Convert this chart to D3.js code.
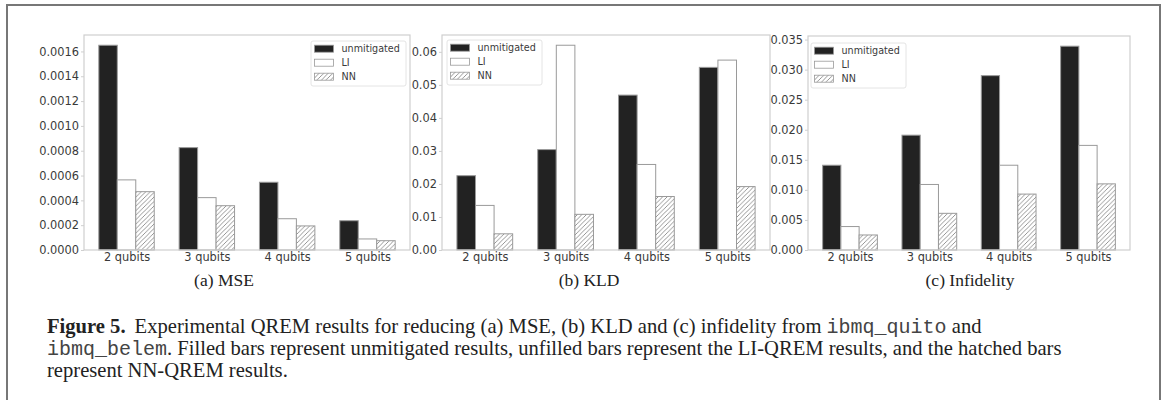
<!DOCTYPE html>
<html>
<head>
<meta charset="utf-8">
<script src="https://cdn.jsdelivr.net/npm/d3@7"></script>
<style>
  body { margin: 0; background: #fff; }
  svg { display: block; }
</style>
</head>
<body>
<figure style="margin:0"></figure>
<script>
const categories = ['2 qubits', '3 qubits', '4 qubits', '5 qubits'];
const seriesNames = ['unmitigated', 'LI', 'NN'];

const mseUnmitigated = [0.00165, 0.000825, 0.000546, 0.000236];
const mseLI = [0.000565, 0.000422, 0.000252, 0.000089];
const mseNN = [0.00047, 0.000357, 0.000194, 0.000075];

const kldUnmitigated = [0.0225, 0.0304, 0.0469, 0.0553];
const kldLI = [0.0135, 0.0620, 0.0259, 0.0575];
const kldNN = [0.0049, 0.0108, 0.0162, 0.0192];

const infUnmitigated = [0.0141, 0.0191, 0.0290, 0.0339];
const infLI = [0.0039, 0.0109, 0.0141, 0.0174];
const infNN = [0.0025, 0.0061, 0.0093, 0.0110];

const mseTicks = [0, 0.0002, 0.0004, 0.0006, 0.0008, 0.0010, 0.0012, 0.0014, 0.0016];
const kldTicks = [0, 0.01, 0.02, 0.03, 0.04, 0.05, 0.06];
const infTicks = [0, 0.005, 0.010, 0.015, 0.020, 0.025, 0.030, 0.035];

const subCaptions = ['(a) MSE', '(b) KLD', '(c) Infidelity'];

(() => {
  const totalWidth = 1167;
  const totalHeight = 400;

  const svg = d3.select('figure').append('svg')
    .attr('width', totalWidth)
    .attr('height', totalHeight);

  // hatch for NN bars
  const defs = svg.append('defs');
  const pat = defs.append('pattern')
    .attr('id', 'hatch')
    .attr('patternUnits', 'userSpaceOnUse')
    .attr('width', 4.5).attr('height', 4.5);
  pat.append('rect').attr('width', 4.5).attr('height', 4.5).attr('fill', '#fff');
  pat.append('path')
    .attr('d', 'M-1,1 l2,-2 M0,4.5 l4.5,-4.5 M3.5,5.5 l2,-2')
    .attr('stroke', '#8a8a8a')
    .attr('stroke-width', 0.9);

  // outer frame
  svg.append('rect')
    .attr('x', 7).attr('y', 5)
    .attr('width', 1153).attr('height', 430)
    .attr('fill', 'none')
    .attr('stroke', '#777')
    .attr('stroke-width', 2);

  const fills = ['#222', '#fff', 'url(#hatch)'];

  const panels = [
    {left: 84, right: 410, top: 35, bottom: 250, values: [mseUnmitigated, mseLI, mseNN],
     ticks: mseTicks, fmt: d3.format('.4f'), legend: {x: 311, y: 41}, capX: 224},
    {left: 442, right: 770, top: 35, bottom: 250, values: [kldUnmitigated, kldLI, kldNN],
     ticks: kldTicks, fmt: d3.format('.2f'), legend: {x: 447, y: 40}, capX: 589},
    {left: 808, right: 1130, top: 36, bottom: 250, values: [infUnmitigated, infLI, infNN],
     ticks: infTicks, fmt: d3.format('.3f'), legend: {x: 811, y: 43}, capX: 970}
  ];

  const bw = 0.23;
  const extent = (categories.length - 1) + 3 * bw;
  const pad = extent * 0.05;

  panels.forEach((p, pi) => {
    const g = svg.append('g');

    const x = d3.scaleLinear()
      .domain([-1.5 * bw - pad, categories.length - 1 + 1.5 * bw + pad])
      .range([p.left, p.right]);

    const maxVal = d3.max(p.values, (s) => d3.max(s));
    const y = d3.scaleLinear()
      .domain([0, maxVal * 1.05])
      .range([p.bottom, p.top]);

    // bars
    p.values.forEach((s, si) => {
      g.selectAll(null)
        .data(s)
        .enter().append('rect')
        .attr('x', (d, i) => x(i + (si - 1.5) * bw))
        .attr('width', x(bw) - x(0))
        .attr('y', (d) => y(d))
        .attr('height', (d) => y(0) - y(d))
        .attr('fill', fills[si])
        .attr('stroke', '#9a9a9a')
        .attr('stroke-width', 1);
    });

    // frame
    g.append('rect')
      .attr('x', p.left).attr('y', p.top)
      .attr('width', p.right - p.left).attr('height', p.bottom - p.top)
      .attr('fill', 'none')
      .attr('stroke', '#cfcfcf')
      .attr('stroke-width', 1.2);

    const yAxis = g.append('g')
      .attr('transform', 'translate(' + p.left + ',0)')
      .call(d3.axisLeft(y).tickValues(p.ticks).tickFormat(p.fmt).tickSize(3).tickPadding(2));
    yAxis.select('.domain').remove();
    yAxis.selectAll('line').attr('stroke', '#cfcfcf');
    yAxis.selectAll('text')
      .attr('fill', '#3a3a3a')
      .style('font-family', '"DejaVu Sans", sans-serif')
      .style('font-size', '11.4px');

    const xAxis = g.append('g')
      .attr('transform', 'translate(0,' + p.bottom + ')')
      .call(d3.axisBottom(x).tickValues(d3.range(categories.length))
        .tickFormat((i) => categories[i]).tickSize(0).tickPadding(3));
    xAxis.select('.domain').remove();
    xAxis.selectAll('text')
      .attr('fill', '#3a3a3a')
      .style('font-family', '"DejaVu Sans", sans-serif')
      .style('font-size', '11.4px');

    // legend
    const lg = g.append('g').attr('transform', 'translate(' + p.legend.x + ',' + p.legend.y + ')');
    lg.append('rect')
      .attr('width', 95).attr('height', 45)
      .attr('rx', 2)
      .attr('fill', '#fff')
      .attr('stroke', '#e4e4e4');
    seriesNames.forEach((name, si) => {
      const cy = 7.7 + si * 14;
      lg.append('rect')
        .attr('x', 3.5).attr('y', cy - 3.5)
        .attr('width', 19).attr('height', 7)
        .attr('fill', fills[si])
        .attr('stroke', '#9a9a9a')
        .attr('stroke-width', 0.8);
      lg.append('text')
        .attr('x', 30.5).attr('y', cy)
        .attr('dy', '0.35em')
        .attr('fill', '#3a3a3a')
        .style('font-family', '"DejaVu Sans", sans-serif')
        .style('font-size', '9.6px')
        .text(name);
    });

    svg.append('text')
      .attr('x', p.capX).attr('y', 286)
      .attr('text-anchor', 'middle')
      .attr('fill', '#222')
      .style('font-family', '"Liberation Serif", serif')
      .style('font-size', '17.5px')
      .text(subCaptions[pi]);
  });

  // figure caption
  const serif = '"Liberation Serif", serif';
  const mono = '"Liberation Mono", monospace';
  const cap = svg.append('g')
    .attr('fill', '#222')
    .style('font-size', '20.6px');

  const l1 = cap.append('text').attr('x', 47).attr('y', 333).style('font-family', serif);
  l1.append('tspan').style('font-weight', 'bold').text('Figure 5.');
  l1.append('tspan').attr('dx', 9).text('Experimental QREM results for reducing (a) MSE, (b) KLD and (c) infidelity from ');
  l1.append('tspan').style('font-family', mono).style('font-size', '20px').attr('fill', '#444').text('ibmq_quito');
  l1.append('tspan').text(' and');

  const l2 = cap.append('text').attr('x', 47).attr('y', 355).style('font-family', serif);
  l2.append('tspan').style('font-family', mono).style('font-size', '20px').attr('fill', '#444').text('ibmq_belem');
  l2.append('tspan').text('. Filled bars represent unmitigated results, unfilled bars represent the LI-QREM results, and the hatched bars');

  cap.append('text').attr('x', 47).attr('y', 377).style('font-family', serif)
    .text('represent NN-QREM results.');
})();
</script>
</body>
</html>
